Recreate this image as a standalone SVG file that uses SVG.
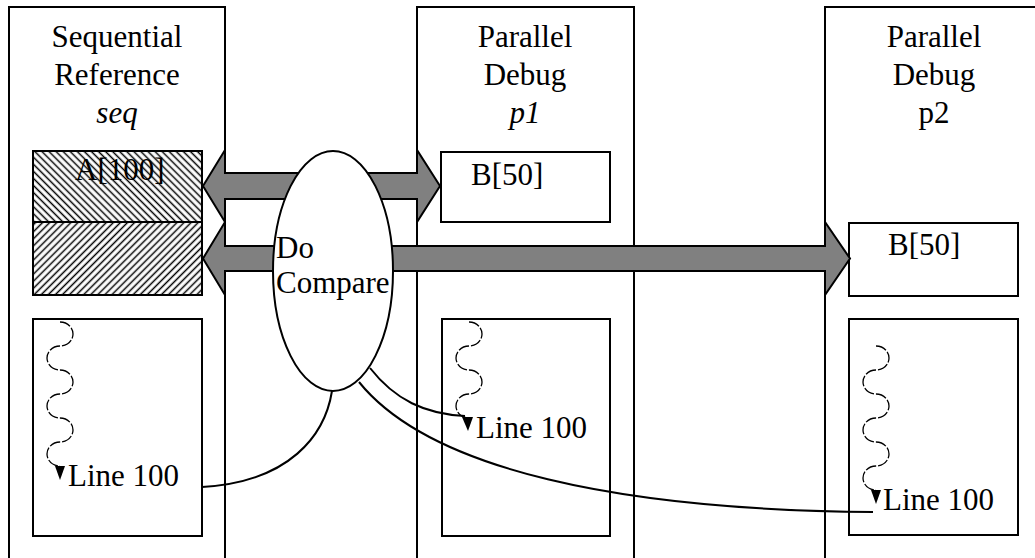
<svg xmlns="http://www.w3.org/2000/svg" width="1035" height="558" viewBox="0 0 1035 558">
<style>
  .frame{fill:#fff;stroke:#000;stroke-width:2}
  text{font-family:'Liberation Serif','Times New Roman','DejaVu Serif',serif;font-size:31px;fill:#000}
  .it{font-style:italic}
  .mid{text-anchor:middle}
  .arrow{fill:#808080;stroke:#000;stroke-width:2;stroke-linejoin:miter}
  .link{fill:none;stroke:#000;stroke-width:2}
  .wave{fill:none;stroke:#000;stroke-width:1.3;stroke-dasharray:11 2}
  .head{fill:#000;stroke:none}
</style>
<defs>
  <pattern id="hatchBack" width="5" height="5" patternUnits="userSpaceOnUse" patternTransform="rotate(-45)">
    <rect width="5" height="5" fill="#fff"/>
    <line x1="2.5" y1="0" x2="2.5" y2="5" stroke="#000" stroke-width="1.5"/>
  </pattern>
  <pattern id="hatchFwd" width="5" height="5" patternUnits="userSpaceOnUse" patternTransform="rotate(45)">
    <rect width="5" height="5" fill="#fff"/>
    <line x1="2.5" y1="0" x2="2.5" y2="5" stroke="#000" stroke-width="1.5"/>
  </pattern>
</defs>
<rect width="1035" height="558" fill="#fff"/>

<g id="col-seq">
  <rect class="frame" x="9" y="7" width="216" height="570"/>
  <text class="mid" x="117" y="47" font-family="Liberation Serif">Sequential</text>
  <text class="mid" x="117" y="85" font-family="Liberation Serif">Reference</text>
  <text class="mid it" x="117" y="123" font-family="Liberation Serif">seq</text>
</g>
<g id="col-p1">
  <rect class="frame" x="417" y="7" width="217" height="570"/>
  <text class="mid" x="525" y="47" font-family="Liberation Serif">Parallel</text>
  <text class="mid" x="525" y="85" font-family="Liberation Serif">Debug</text>
  <text class="mid it" x="525" y="123" font-family="Liberation Serif">p1</text>
</g>
<g id="col-p2">
  <rect class="frame" x="825" y="7" width="300" height="570"/>
  <text class="mid" x="934" y="47" font-family="Liberation Serif">Parallel</text>
  <text class="mid" x="934" y="85" font-family="Liberation Serif">Debug</text>
  <text class="mid" x="934" y="123" font-family="Liberation Serif">p2</text>
</g>

<g id="box-A">
  <rect x="33" y="151" width="169" height="71" fill="url(#hatchBack)" stroke="#000" stroke-width="2"/>
  <rect x="33" y="222" width="169" height="73" fill="url(#hatchFwd)" stroke="#000" stroke-width="2"/>
  <text x="75" y="180" font-family="Liberation Serif">A[100]</text>
</g>
<g id="box-B1">
  <rect class="frame" x="441" y="152" width="169" height="70"/>
  <text x="471" y="185" font-family="Liberation Serif">B[50]</text>
</g>
<g id="box-B2">
  <rect class="frame" x="849" y="223" width="169" height="73"/>
  <text x="888" y="255" font-family="Liberation Serif">B[50]</text>
</g>

<g id="code-seq">
  <rect class="frame" x="33" y="319" width="169" height="217"/>
  <path class="wave" d="M60,322 a13,12 0 0 1 0,24 a13,12 0 0 0 0,24 a13,12 0 0 1 0,24 a13,12 0 0 0 0,24 a13,12 0 0 1 0,24 a13,12 0 0 0 0,24"/>
  <polygon class="head" points="55,466 65,466 60,480"/>
  <text x="68" y="486" font-family="Liberation Serif">Line 100</text>
</g>
<g id="code-p1">
  <rect class="frame" x="442" y="319" width="168" height="217"/>
  <path class="wave" d="M469,322 a13,12 0 0 1 0,24 a13,12 0 0 0 0,24 a13,12 0 0 1 0,24 a13,12 0 0 0 0,24"/>
  <polygon class="head" points="462,417 473,417 468,431"/>
  <text x="476" y="438" font-family="Liberation Serif">Line 100</text>
</g>
<g id="code-p2">
  <rect class="frame" x="849" y="319" width="169" height="216"/>
  <path class="wave" d="M876,346 a13,12 0 0 1 0,24 a13,12 0 0 0 0,24 a13,12 0 0 1 0,24 a13,12 0 0 0 0,24 a13,12 0 0 1 0,24 a13,12 0 0 0 0,24"/>
  <polygon class="head" points="871,490 881,490 876,504"/>
  <text x="883" y="510" font-family="Liberation Serif">Line 100</text>
</g>

<g id="connectors">
  <polygon class="arrow" points="203,186 225,150 225,173 417,173 417,150 440,186 417,222 417,199 225,199 225,222"/>
  <polygon class="arrow" points="203,258.5 225,222 225,246 825,246 825,222 850,258.5 825,295 825,271 225,271 225,295"/>
  <path class="link" d="M332,391 C325,435 290,482 202,487"/>
  <path class="link" d="M370,368 C395,400 425,414 465,416"/>
  <path class="link" d="M359,382 C430,470 620,510 873,512"/>
</g>

<g id="compare">
  <ellipse cx="333" cy="271" rx="60" ry="120" fill="#fff" stroke="#000" stroke-width="2"/>
  <text x="276" y="258" font-family="Liberation Serif">Do</text>
  <text x="276" y="293" font-family="Liberation Serif">Compare</text>
</g>
</svg>
